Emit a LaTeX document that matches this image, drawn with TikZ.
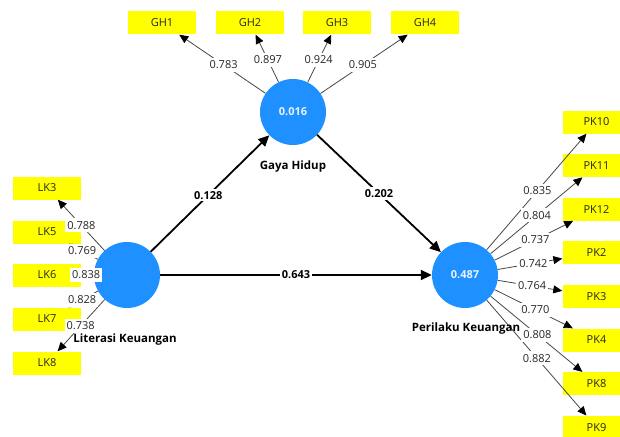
\documentclass[tikz,border=0pt]{standalone}
\usepackage{fontspec}
\setmainfont{Open Sans}
\usetikzlibrary{arrows.meta,calc}
\definecolor{lvblue}{HTML}{1E90FF}
\definecolor{indyellow}{HTML}{FFFF00}
\definecolor{txtgray}{HTML}{262626}
\definecolor{lvtext}{HTML}{E8F3FF}
\begin{document}
\begin{tikzpicture}[x=1pt,y=-1pt,
  lv/.style={circle,fill=lvblue,minimum size=66pt,inner sep=0pt,text=lvtext,font=\bfseries\fontsize{11}{12}\selectfont},
  ind/.style={fill=indyellow,minimum width=68pt,minimum height=23pt,inner sep=0pt,text=txtgray,font=\fontsize{11}{12}\selectfont},
  load/.style={draw=black!72,line width=0.8pt,-{Triangle[length=9pt,width=8pt,color=black]}},
  struct/.style={draw=black,line width=1.8pt,-{Triangle[length=11pt,width=10pt]}},
  lab/.style={fill=white,inner xsep=2pt,inner ysep=3pt,text=txtgray,font=\fontsize{11}{12}\selectfont},
  plab/.style={fill=white,inner xsep=1.5pt,inner ysep=2pt,text=black,font=\bfseries\fontsize{11}{12}\selectfont},
  lvname/.style={text=black,font=\bfseries\fontsize{11.5}{13}\selectfont}
]
\useasboundingbox (0,0) rectangle (620,436);
\clip (0,0) rectangle (620,436);
\fill[white] (0,0) rectangle (620,436);

% latent variables
\node[lv] (G) at (293,112) {0.016};
\node[lv] (L) at (127,275) {};
\node[lv] (P) at (465,275) {0.487};

% indicators
\node[ind] (GH1) at (162,23) {GH1};
\node[ind] (GH2) at (250,23) {GH2};
\node[ind] (GH3) at (337,23) {GH3};
\node[ind] (GH4) at (425,23) {GH4};

\node[ind] (LK3) at (47,188) {LK3};
\node[ind] (LK5) at (47,232) {LK5};
\node[ind] (LK6) at (47,275) {LK6};
\node[ind] (LK7) at (47,319) {LK7};
\node[ind] (LK8) at (47,363) {LK8};

\node[ind] (PK10) at (596.5,122) {PK10};
\node[ind] (PK11) at (596.5,165.6) {PK11};
\node[ind] (PK12) at (596.5,209.2) {PK12};
\node[ind] (PK2) at (596.5,252.8) {PK2};
\node[ind] (PK3) at (596.5,296.4) {PK3};
\node[ind] (PK4) at (596.5,340) {PK4};
\node[ind] (PK8) at (596.5,383.6) {PK8};
\node[ind] (PK9) at (596.5,427.2) {PK9};

% loadings
\foreach \t in {GH1,GH2,GH3,GH4} \draw[load] (G) -- (\t);
\foreach \t in {LK3,LK5,LK6,LK7,LK8} \draw[load] (L) -- (\t);
\foreach \t in {PK10,PK11,PK12,PK2,PK3,PK4,PK8,PK9} \draw[load] (P) -- (\t);

% structural paths
\draw[struct] (L) -- (G);
\draw[struct] (G) -- (P);
\draw[struct] (L) -- (P);

% loading labels
\node[lab] (lGH1) at ($(G)!0.53!(GH1)$) {0.783};
\node[lab] (lGH2) at ($(G)!0.584!(GH2)$) {0.897};
\node[lab] (lGH3) at ($(G)!0.584!(GH3)$) {0.924};
\node[lab] (lGH4) at ($(G)!0.53!(GH4)$) {0.905};

\node[lab] (lLK3) at ($(L)!0.57!(LK3)$) {0.788};
\node[lab] (lLK5) at ($(L)!0.56!(LK5)$) {0.769};
\node[lab] (lLK6) at ($(L)!0.51!(LK6)$) {0.838};
\node[lab] (lLK7) at ($(L)!0.56!(LK7)$) {0.828};
\node[lab] (lLK8) at ($(L)!0.58!(LK8)$) {0.738};

\node[lab] (lPK10) at ($(P)!0.55!(PK10)$) {0.835};
\node[lab] (lPK11) at ($(P)!0.547!(PK11)$) {0.804};
\node[lab] (lPK12) at ($(P)!0.535!(PK12)$) {0.737};
\node[lab] (lPK2) at ($(P)!0.52!(PK2)$) {0.742};
\node[lab] (lPK3) at ($(P)!0.51!(PK3)$) {0.764};
\node[lab] (lPK4) at ($(P)!0.535!(PK4)$) {0.770};
\node[lab] (lPK8) at ($(P)!0.55!(PK8)$) {0.808};
\node[lab] (lPK9) at ($(P)!0.547!(PK9)$) {0.882};

% path labels
\node[plab] (pLG) at ($(L)!0.49!(G)$) {0.128};
\node[plab] (pGP) at ($(G)!0.5!(P)$) {0.202};
\node[plab] (pLP) at ($(L)!0.5!(P)$) {0.643};

% names
\node[lvname] (nG) at (293,167) {Gaya Hidup};
\node[lvname] (nL) at (125,340) {Literasi Keuangan};
\node[lvname] (nP) at (466,329) {Perilaku Keuangan};
\end{tikzpicture}
\end{document}
